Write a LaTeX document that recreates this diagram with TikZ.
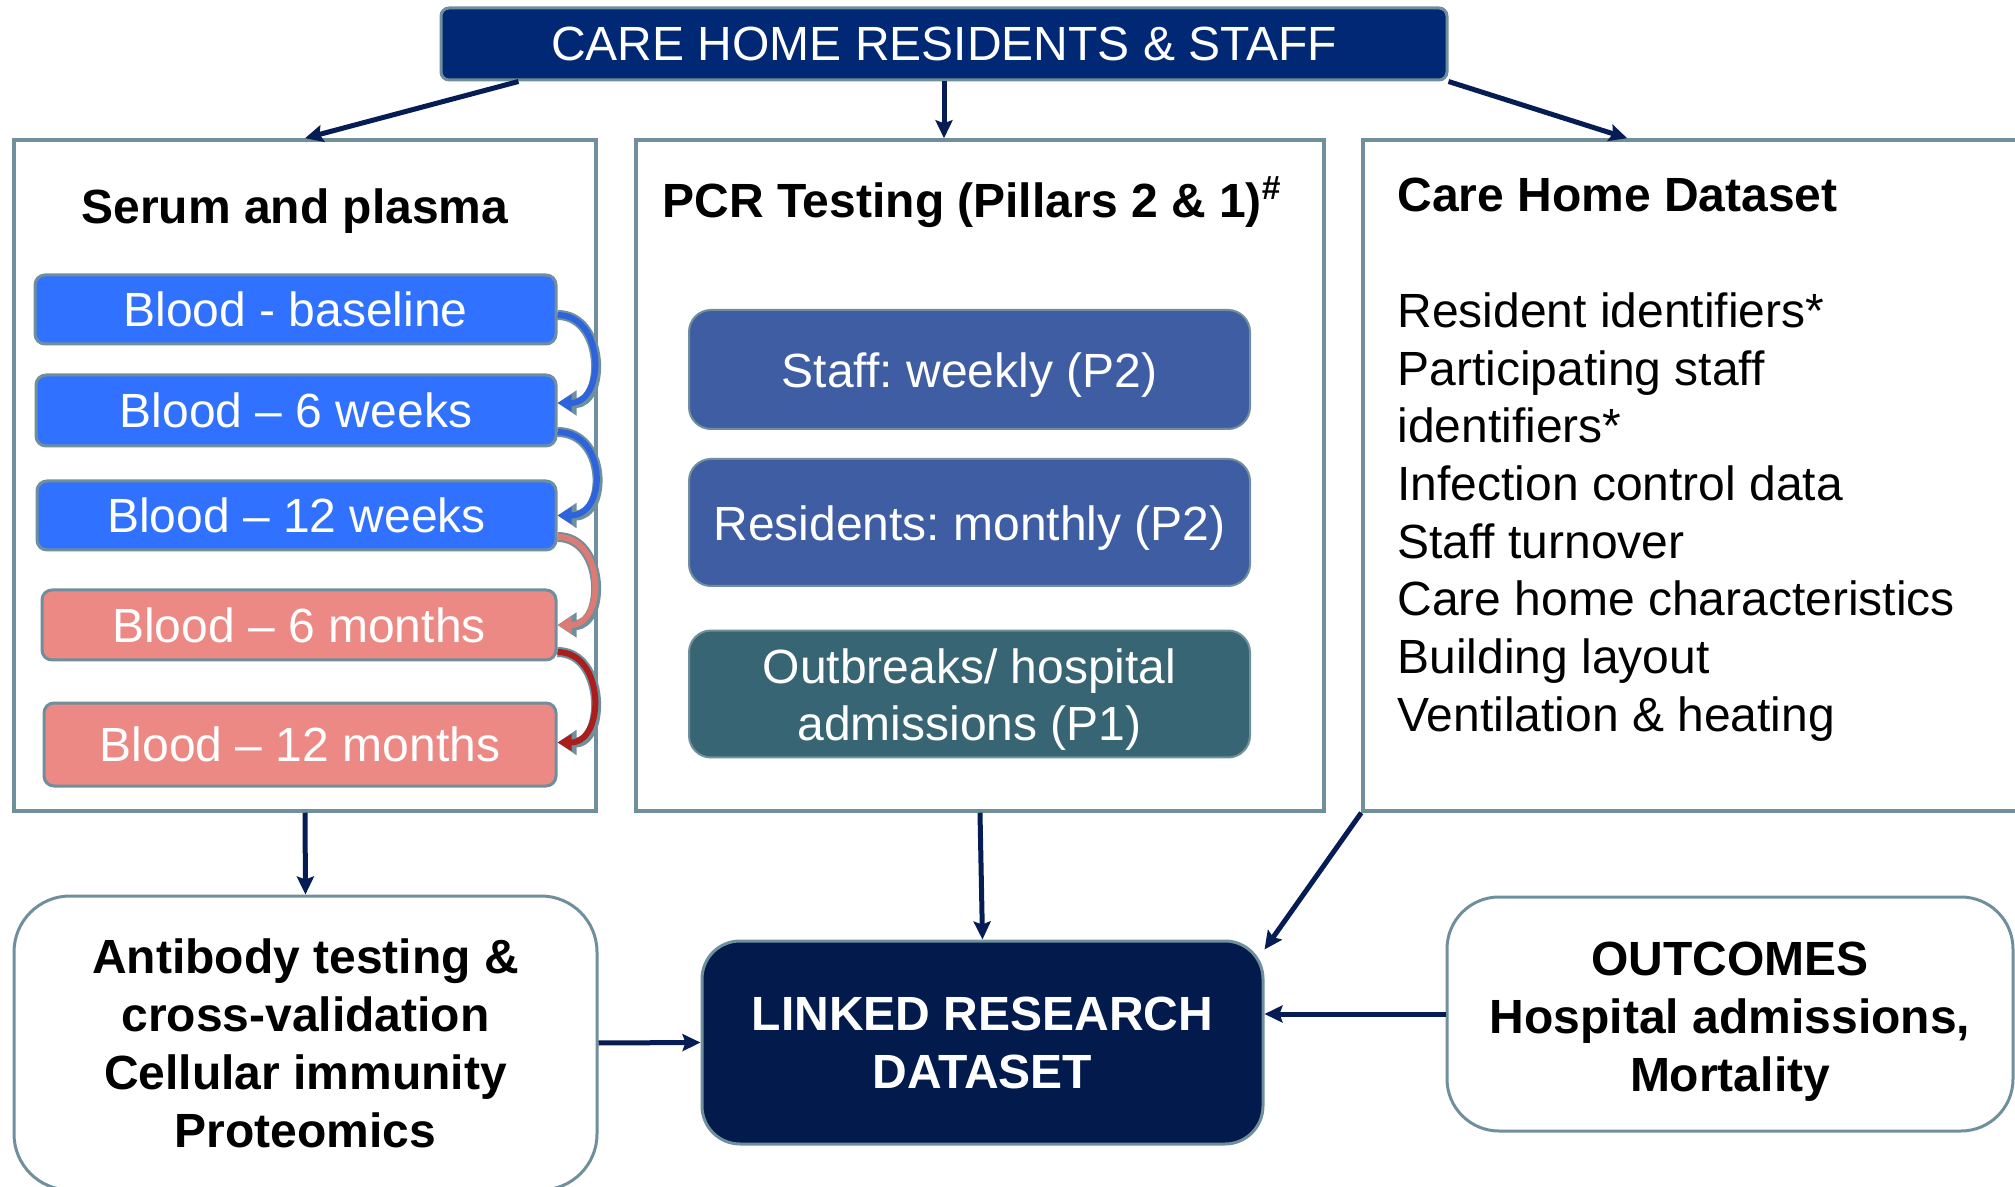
\documentclass[tikz,border=0pt]{standalone}
\usepackage{fontspec}
\setmainfont{Liberation Sans}
\usetikzlibrary{positioning,arrows.meta}
\frenchspacing

\definecolor{topnavy}{RGB}{0,40,116}
\definecolor{linknavy}{RGB}{3,26,77}
\definecolor{arrownavy}{RGB}{5,28,85}
\definecolor{frame}{RGB}{111,143,156}
\definecolor{bloodblue}{RGB}{49,113,255}
\definecolor{salmon}{RGB}{237,137,132}
\definecolor{pcrblue}{RGB}{63,93,163}
\definecolor{pcrteal}{RGB}{55,101,116}
\definecolor{hopblue}{RGB}{45,100,222}
\definecolor{hopsalmon}{RGB}{220,122,118}
\definecolor{hopred}{RGB}{170,30,30}

\tikzset{
  panel/.style={draw=frame,line width=1.75pt,fill=white,inner sep=0pt},
  headbox/.style={draw=frame,line width=1.5pt,fill=topnavy,rounded corners=4pt,text=white},
  blood/.style={draw=frame,line width=1.5pt,rounded corners=5pt,text=white,inner sep=0pt},
  pcrbox/.style={draw=frame,line width=1pt,rounded corners=11pt,text=white,align=center,minimum width=280.5pt},
  roundbox/.style={draw=frame,line width=1.5pt,fill=white,align=center,font=\fontsize{24}{29}\selectfont\bfseries},
  heading/.style={font=\fontsize{24}{29}\selectfont\bfseries,inner sep=0pt},
  link/.style={->,draw=arrownavy,line width=2.5pt},
  hop/.style={line width=3pt,draw=#1,-{Triangle[length=7pt,width=8pt]},
    preaction={draw=frame,line width=5pt,-{Triangle[length=9.5pt,width=12pt]}}}
}

\begin{document}
\begin{tikzpicture}[x=0.5pt,y=-0.5pt,>={Stealth[length=9pt,width=8.5pt,inset=1.5pt]},font=\fontsize{24}{28.85}\selectfont]
\clip (0,0) rectangle (2015,1187);

\node[headbox,minimum width=503pt,minimum height=36pt] (residents) at (944,44) {CARE HOME RESIDENTS \& STAFF};

% three source panels
\node[panel,minimum width=291pt,minimum height=335.5pt] (serum) at (305,475.5) {};
\node[panel,minimum width=344pt,minimum height=335.5pt] (pcr) at (980,475.5) {};
\node[panel,minimum width=340pt,minimum height=335.5pt] (dataset) at (1703,475.5) {};

\node[heading,anchor=base] (serumtitle) at (295,224) {Serum and plasma};
\node[heading,anchor=base] (pcrtitle) at (972,218) {PCR Testing (Pillars 2 \& 1)\textsuperscript{\#}};
\node[anchor=north west,align=left,inner sep=0pt] (datalist) at (1397,178) {\textbf{Care Home Dataset}\\[28.85pt]
  Resident identifiers*\\ Participating staff\\ identifiers*\\ Infection control data\\
  Staff turnover\\ Care home characteristics\\ Building layout\\ Ventilation \& heating};

% blood samples
\node[blood,fill=bloodblue,minimum width=260.5pt,minimum height=34.5pt] (b0) at (295.5,309.5) {Blood - baseline};
\node[blood,fill=bloodblue,minimum width=260pt,minimum height=35.5pt] (b1) at (296,410.5) {Blood -- 6 weeks};
\node[blood,fill=bloodblue,minimum width=259.5pt,minimum height=34.5pt] (b2) at (296.5,515.5) {Blood -- 12 weeks};
\node[blood,fill=salmon,minimum width=257pt,minimum height=35pt] (b3) at (299,625) {Blood -- 6 months};
\node[blood,fill=salmon,minimum width=256pt,minimum height=41.5pt] (b4) at (300,744.5) {Blood -- 12 months};

\draw[hop=hopblue] ([yshift=-2.75pt]b0.east) .. controls +(24pt,0) and +(24pt,0) .. ([yshift=3.75pt]b1.east);
\draw[hop=hopblue] ([yshift=-10.75pt]b1.east) .. controls +(25pt,0) and +(25pt,0) .. (b2.east);
\draw[hop=hopsalmon] ([yshift=-10.75pt]b2.east) .. controls +(24pt,0) and +(24pt,0) .. (b3.east);
\draw[hop=hopred] ([yshift=-13.5pt]b3.east) .. controls +(24pt,0) and +(24pt,0) .. ([yshift=1pt]b4.east);

% PCR pillars
\node[pcrbox,fill=pcrblue,minimum height=59.5pt] (staff) at (969.5,369.5) {\rule{0pt}{23pt}Staff: weekly (P2)};
\node[pcrbox,fill=pcrblue,minimum height=63.5pt] (monthly) at (969.5,522.5) {\rule{0pt}{23pt}Residents: monthly (P2)};
\node[pcrbox,fill=pcrteal,minimum height=63pt] (outbreaks) at (969.5,694) {\rule{0pt}{23pt}Outbreaks/ hospital\\admissions (P1)};

% bottom row
\node[roundbox,rounded corners=28pt,minimum width=291.5pt,minimum height=147pt] (antibody) at (305.5,1043) {Antibody testing \&\\cross-validation\\Cellular immunity\\Proteomics};
\node[roundbox,draw=frame,fill=linknavy,text=white,rounded corners=19pt,minimum width=280.5pt,minimum height=101.5pt] (linked) at (982.5,1042.5) {LINKED RESEARCH\\DATASET};
\node[roundbox,rounded corners=26pt,minimum width=283pt,minimum height=117pt] (outcomes) at (1730,1014) {\rule{0pt}{24pt}OUTCOMES\\Hospital admissions,\\Mortality};

\draw[link] ([xshift=39.5pt]residents.south west) -- (serum.north);
\draw[link] (residents.south) -- (residents.south |- pcr.north);
\draw[link] (residents.south east) -- ([xshift=133pt]dataset.north west);
\draw[link] (serum.south) -- (antibody.north);
\draw[link] (pcr.south) -- (linked.north);
\draw[link] (dataset.south west) -- ([yshift=-5pt]linked.north east);
\draw[link] (antibody.east) -- (linked.west);
\draw[link] (outcomes.west) -- (outcomes.west -| linked.east);
\end{tikzpicture}
\end{document}
